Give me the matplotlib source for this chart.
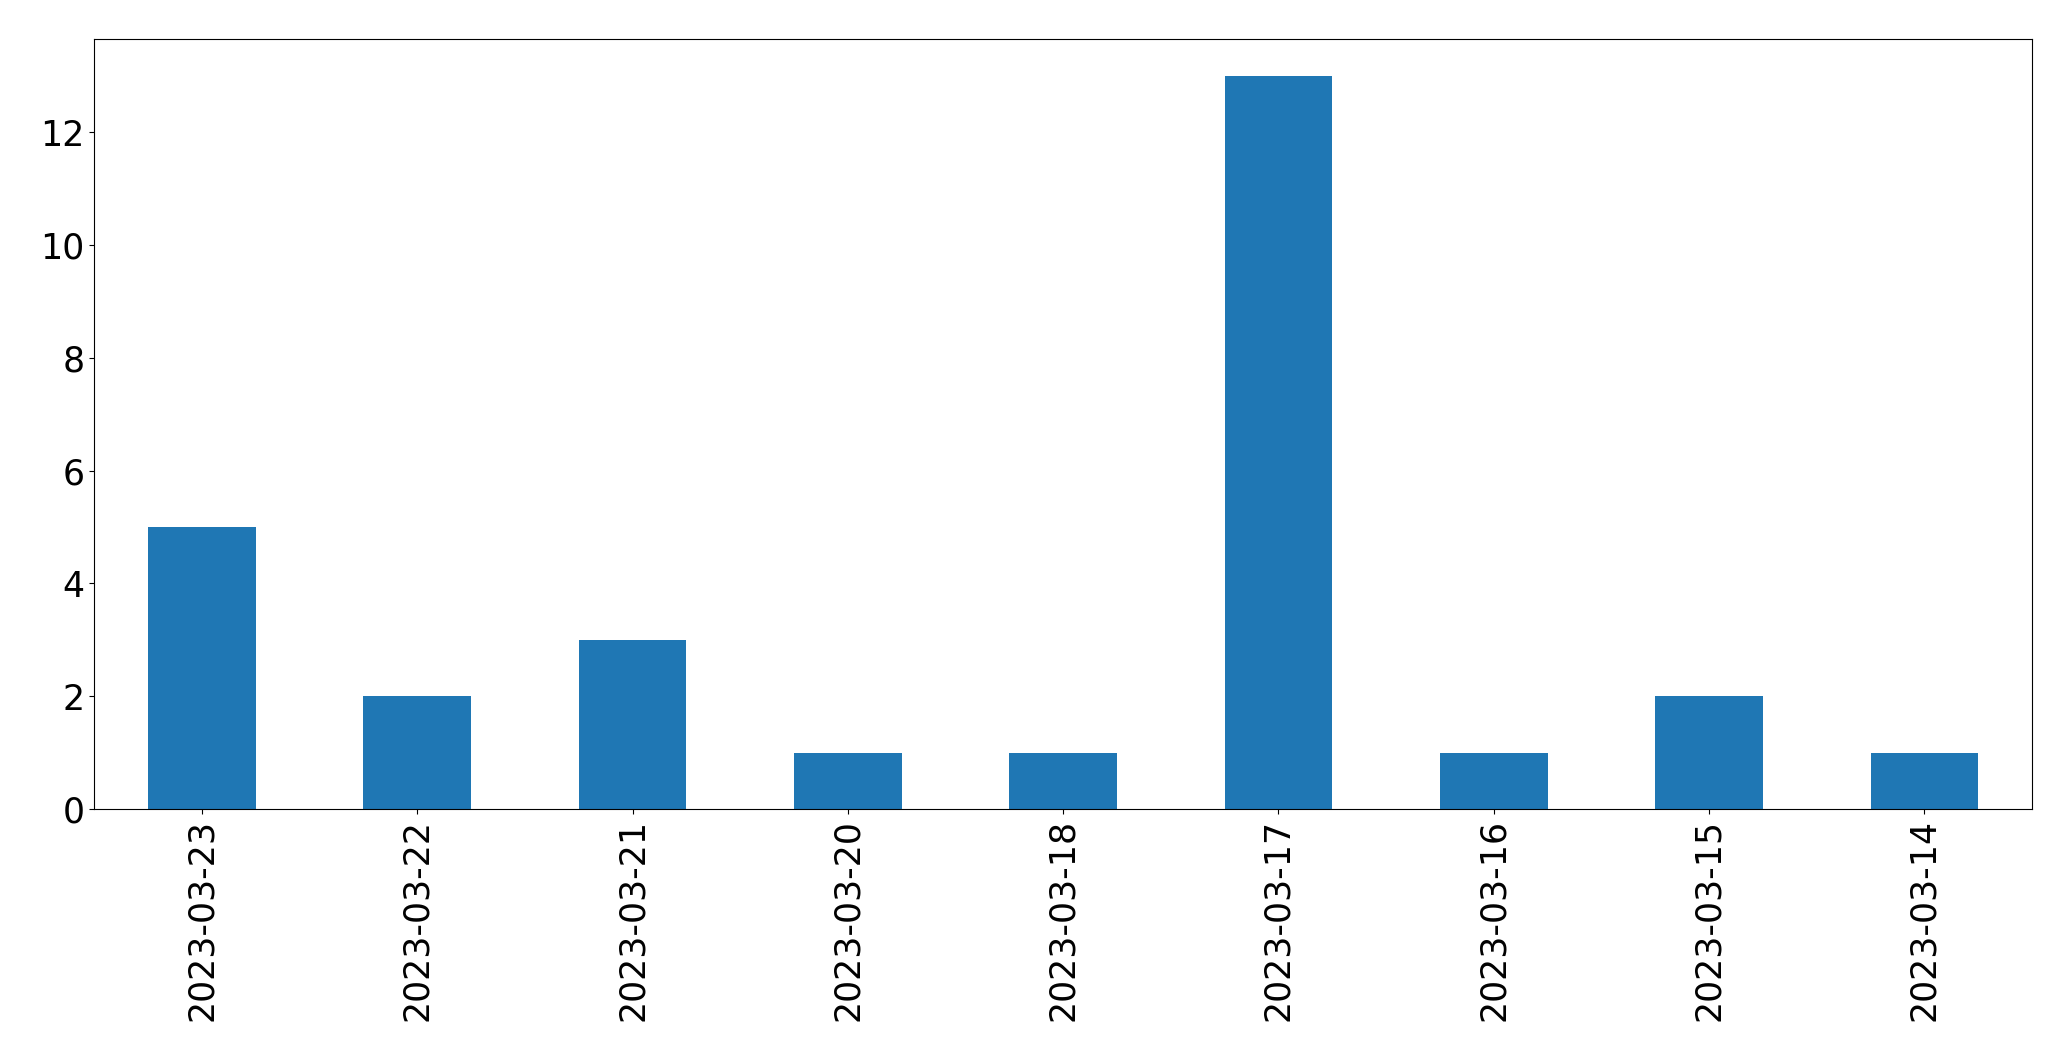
import numpy as np
import pandas as pd
import matplotlib
matplotlib.use("Agg")
import matplotlib.pyplot as plt

dates = ["2023-03-23", "2023-03-22", "2023-03-21", "2023-03-20", "2023-03-18",
         "2023-03-17", "2023-03-16", "2023-03-15", "2023-03-14"]
counts = [5, 2, 3, 1, 1, 13, 1, 2, 1]

s = pd.Series(counts, index=dates)

fig = plt.figure(figsize=(20.71, 10.61), dpi=100)
ax = fig.add_axes([0.0455, 0.2375, 0.9357, 0.7255])
s.plot.bar(ax=ax, color="#1f77b4")
ax.tick_params(axis="both", labelsize=25)
ax.set_yticks([0, 2, 4, 6, 8, 10, 12])

fig.savefig("out.png", dpi=100)
